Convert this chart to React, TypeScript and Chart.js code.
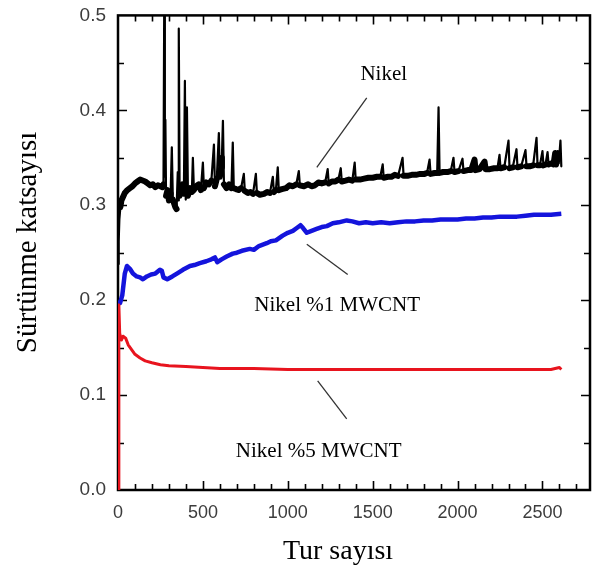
import { useEffect, useRef } from 'react';
import { Chart, registerables } from 'chart.js';

Chart.register(...registerables);

// ---- Data (x = Tur sayısı, y = Sürtünme katsayısı) ----
const nikel: [number, number][] = [
  [0, 0.238], [4, 0.262], [8, 0.285], [14, 0.298], [20, 0.305], [30, 0.309], [40, 0.313], [55, 0.316],
  [70, 0.318], [85, 0.32], [100, 0.323], [115, 0.325], [130, 0.327], [145, 0.326], [160, 0.325], [175, 0.323],
  [190, 0.321], [205, 0.322], [220, 0.319], [235, 0.321], [250, 0.32], [262, 0.319], [268, 0.322], [272, 0.5],
  [276, 0.33], [279, 0.39], [283, 0.31], [292, 0.316], [300, 0.305], [310, 0.312], [317, 0.361], [323, 0.306],
  [330, 0.302], [338, 0.298], [345, 0.296], [352, 0.335], [355, 0.305], [358, 0.486], [363, 0.31], [372, 0.316],
  [380, 0.322], [388, 0.312], [394, 0.431], [399, 0.306], [406, 0.403], [412, 0.31], [425, 0.318], [435, 0.314],
  [441, 0.35], [447, 0.316], [460, 0.32], [475, 0.322], [488, 0.316], [500, 0.345], [506, 0.318], [520, 0.324],
  [535, 0.322], [550, 0.326], [565, 0.364], [571, 0.32], [582, 0.328], [594, 0.376], [600, 0.33], [608, 0.34],
  [612, 0.35], [618, 0.389], [624, 0.322], [640, 0.318], [655, 0.322], [668, 0.318], [676, 0.366], [682, 0.318],
  [695, 0.317], [710, 0.316], [725, 0.318], [741, 0.333], [747, 0.315], [765, 0.313], [780, 0.314], [795, 0.312],
  [812, 0.333], [818, 0.313], [835, 0.311], [860, 0.312], [880, 0.314], [895, 0.313], [912, 0.33], [918, 0.314],
  [930, 0.316], [941, 0.34], [947, 0.316], [965, 0.317], [990, 0.318], [1010, 0.321], [1030, 0.32], [1050, 0.322],
  [1065, 0.336], [1071, 0.321], [1095, 0.32], [1120, 0.322], [1140, 0.32], [1160, 0.321], [1180, 0.324], [1200, 0.323],
  [1220, 0.324], [1235, 0.338], [1241, 0.323], [1260, 0.325], [1280, 0.325], [1298, 0.327], [1312, 0.339], [1318, 0.325],
  [1340, 0.326], [1360, 0.327], [1380, 0.326], [1394, 0.345], [1400, 0.327], [1425, 0.327], [1450, 0.328], [1475, 0.329],
  [1500, 0.329], [1525, 0.33], [1545, 0.33], [1559, 0.343], [1565, 0.329], [1590, 0.33], [1610, 0.33], [1630, 0.332],
  [1650, 0.331], [1676, 0.35], [1682, 0.331], [1705, 0.331], [1730, 0.332], [1755, 0.332], [1780, 0.333], [1805, 0.333],
  [1820, 0.334], [1835, 0.348], [1841, 0.333], [1865, 0.334], [1880, 0.334], [1888, 0.403], [1894, 0.334], [1915, 0.335],
  [1940, 0.335], [1960, 0.336], [1976, 0.35], [1982, 0.335], [2005, 0.336], [2029, 0.349], [2035, 0.336], [2060, 0.337],
  [2080, 0.337], [2100, 0.348], [2106, 0.337], [2130, 0.338], [2159, 0.346], [2165, 0.338], [2190, 0.338], [2215, 0.339],
  [2235, 0.339], [2247, 0.353], [2253, 0.339], [2275, 0.34], [2300, 0.368], [2306, 0.339], [2325, 0.34], [2347, 0.359],
  [2353, 0.34], [2375, 0.341], [2400, 0.358], [2406, 0.341], [2425, 0.341], [2445, 0.342], [2465, 0.371], [2471, 0.342],
  [2485, 0.342], [2500, 0.357], [2506, 0.342], [2518, 0.343], [2530, 0.356], [2536, 0.343], [2550, 0.344], [2565, 0.343],
  [2575, 0.355], [2580, 0.343], [2590, 0.357], [2596, 0.344], [2606, 0.368], [2611, 0.341],
];

const nikelMwcnt1: [number, number][] = [
  [3, 0.2], [12, 0.197], [25, 0.205], [40, 0.228], [53, 0.236], [70, 0.233], [88, 0.228], [110, 0.225],
  [130, 0.224], [147, 0.222], [170, 0.225], [195, 0.227], [220, 0.228], [247, 0.232], [258, 0.231], [268, 0.224],
  [290, 0.222], [320, 0.225], [347, 0.228], [382, 0.232], [424, 0.236], [450, 0.237], [482, 0.239], [520, 0.241],
  [550, 0.243], [571, 0.245], [585, 0.24], [610, 0.243], [640, 0.246], [676, 0.249], [700, 0.25], [730, 0.252],
  [776, 0.254], [800, 0.253], [830, 0.257], [876, 0.26], [900, 0.262], [930, 0.263], [970, 0.268], [1000, 0.271],
  [1030, 0.273], [1053, 0.276], [1075, 0.279], [1090, 0.276], [1112, 0.271], [1140, 0.273], [1170, 0.275], [1200, 0.277],
  [1230, 0.278], [1265, 0.281], [1300, 0.282], [1347, 0.284], [1380, 0.283], [1420, 0.281], [1460, 0.282], [1500, 0.281],
  [1550, 0.282], [1600, 0.281], [1650, 0.282], [1700, 0.283], [1750, 0.283], [1800, 0.284], [1850, 0.284], [1900, 0.285],
  [1950, 0.285], [2000, 0.285], [2050, 0.286], [2100, 0.286], [2150, 0.287], [2200, 0.287], [2250, 0.288], [2300, 0.288],
  [2350, 0.288], [2400, 0.289], [2450, 0.29], [2500, 0.29], [2550, 0.29], [2611, 0.291],
];

const nikelMwcnt5: [number, number][] = [
  [2, 0.0], [5, 0.195], [10, 0.165], [20, 0.158], [30, 0.162], [45, 0.16], [60, 0.153], [80, 0.148],
  [100, 0.143], [130, 0.139], [160, 0.136], [200, 0.134], [250, 0.132], [300, 0.131], [400, 0.13], [500, 0.129],
  [600, 0.128], [800, 0.128], [1000, 0.127], [1200, 0.127], [1400, 0.127], [1600, 0.127], [1800, 0.127], [2000, 0.127],
  [2200, 0.127], [2400, 0.127], [2550, 0.127], [2600, 0.129], [2611, 0.127],
];

const xTickValues = [0, 500, 1000, 1500, 2000, 2500];
const yTickValues = [0.0, 0.1, 0.2, 0.3, 0.4, 0.5];

const X_TITLE = 'Tur sayısı';
const Y_TITLE = 'Sürtünme katsayısı';

const X_MAX = 2780;
const Y_MAX = 0.5;
const X_MINOR = 100;
const X_MAJOR = 500;
const Y_MINOR = 0.05;

const labels = [
  { text: 'Nikel', x: 1565, y: 0.432, lx1: 1171, ly1: 0.34, lx2: 1465, ly2: 0.413 },
  { text: 'Nikel %1 MWCNT', x: 1291, y: 0.189, lx1: 1112, ly1: 0.259, lx2: 1353, ly2: 0.227 },
  { text: 'Nikel %5 MWCNT', x: 1182, y: 0.0345, lx1: 1176, ly1: 0.115, lx2: 1347, ly2: 0.075 },
];

const SERIF = "'Times New Roman', 'Liberation Serif', serif";
const SANS = "Arial, 'Liberation Sans', sans-serif";

const framePlugin = {
  id: 'framePlugin',
  beforeDatasetsDraw(chart: any) {
    const { ctx, chartArea: a, scales } = chart;
    const x = scales.x;
    const y = scales.y;
    ctx.save();
    ctx.strokeStyle = '#000';
    ctx.lineWidth = 2.5;
    ctx.strokeRect(a.left, a.top, a.right - a.left, a.bottom - a.top);
    ctx.lineWidth = 1.6;
    ctx.beginPath();
    for (let i = 1; i * X_MINOR < X_MAX; i++) {
      const v = i * X_MINOR;
      const px = Math.round(x.getPixelForValue(v)) + 0.5;
      const len = v % X_MAJOR === 0 ? 9 : 6;
      ctx.moveTo(px, a.bottom);
      ctx.lineTo(px, a.bottom - len);
      ctx.moveTo(px, a.top);
      ctx.lineTo(px, a.top + len);
    }
    for (let i = 1; i * Y_MINOR < Y_MAX - 1e-9; i++) {
      const v = i * Y_MINOR;
      const py = Math.round(y.getPixelForValue(v)) + 0.5;
      const len = i % 2 === 0 ? 9 : 6;
      ctx.moveTo(a.left, py);
      ctx.lineTo(a.left + len, py);
      ctx.moveTo(a.right, py);
      ctx.lineTo(a.right - len, py);
    }
    ctx.stroke();

    // axis titles
    ctx.fillStyle = '#000';
    ctx.textAlign = 'center';
    ctx.textBaseline = 'alphabetic';
    ctx.font = `28px ${SERIF}`;
    ctx.fillText(X_TITLE, a.left + 220, a.bottom + 69);
    ctx.save();
    ctx.translate(a.left - 82, a.top + 227);
    ctx.rotate(-Math.PI / 2);
    ctx.font = `29px ${SERIF}`;
    ctx.fillText(Y_TITLE, 0, 0);
    ctx.restore();
    ctx.restore();
  },
  afterDatasetsDraw(chart: any) {
    const { ctx, scales } = chart;
    const x = scales.x;
    const y = scales.y;
    ctx.save();
    ctx.strokeStyle = '#333';
    ctx.lineWidth = 1.3;
    ctx.fillStyle = '#000';
    ctx.font = `21px ${SERIF}`;
    ctx.textAlign = 'center';
    ctx.textBaseline = 'alphabetic';
    for (const l of labels) {
      ctx.beginPath();
      ctx.moveTo(x.getPixelForValue(l.lx1), y.getPixelForValue(l.ly1));
      ctx.lineTo(x.getPixelForValue(l.lx2), y.getPixelForValue(l.ly2));
      ctx.stroke();
      ctx.fillText(l.text, x.getPixelForValue(l.x), y.getPixelForValue(l.y));
    }
    ctx.restore();
  },
};

const toPoints = (arr: [number, number][]) => arr.map(([x, y]) => ({ x, y }));

export default function App() {
  const canvasRef = useRef<HTMLCanvasElement | null>(null);

  useEffect(() => {
    const canvas = canvasRef.current;
    if (!canvas) return;
    const chart = new Chart(canvas, {
      type: 'line',
      data: {
        datasets: [
          {
            label: 'Nikel %5 MWCNT',
            data: toPoints(nikelMwcnt5),
            borderColor: '#e8141e',
            borderWidth: 3,
            pointRadius: 0,
            tension: 0,
            borderJoinStyle: 'round',
          },
          {
            label: 'Nikel %1 MWCNT',
            data: toPoints(nikelMwcnt1),
            borderColor: '#1414dc',
            borderWidth: 4.5,
            pointRadius: 0,
            tension: 0,
            borderJoinStyle: 'round',
          },
          {
            label: 'Nikel',
            data: toPoints(nikel),
            borderColor: '#000',
            borderWidth: 6,
            pointRadius: 0,
            tension: 0,
            borderJoinStyle: 'round',
            borderCapStyle: 'round',
            segment: {
              borderWidth: (c: any) =>
                Math.abs(c.p0.parsed.y - c.p1.parsed.y) > 0.012 ? 2.2 : 6,
            },
          } as any,
        ],
      },
      options: {
        responsive: false,
        animation: false,
        events: [],
        layout: { padding: { top: 12, right: 2, left: 0, bottom: 0 } },
        plugins: {
          legend: { display: false },
          tooltip: { enabled: false },
        },
        scales: {
          x: {
            type: 'linear',
            min: 0,
            max: X_MAX,
            grid: { display: false },
            border: { display: false },
            afterBuildTicks: (scale: any) => {
              scale.ticks = xTickValues.map((v) => ({ value: v }));
            },
            ticks: {
              autoSkip: false,
              maxRotation: 0,
              padding: 4,
              color: '#3c3c3c',
              font: { family: SANS, size: 18 },
              callback: (v: any) => String(v),
            },
            afterFit: (scale: any) => {
              scale.height = 82;
            },
          },
          y: {
            type: 'linear',
            min: 0,
            max: Y_MAX,
            grid: { display: false },
            border: { display: false },
            afterBuildTicks: (scale: any) => {
              scale.ticks = yTickValues.map((v) => ({ value: v }));
            },
            ticks: {
              autoSkip: false,
              padding: 4,
              color: '#3c3c3c',
              font: { family: SANS, size: 19 },
              callback: (v: any) => Number(v).toFixed(1),
            },
            afterFit: (scale: any) => {
              scale.width = 118;
            },
          },
        },
      },
      plugins: [framePlugin],
    });
    return () => chart.destroy();
  }, []);

  return (
    <canvas
      ref={canvasRef}
      width={592}
      height={572}
      style={{ position: 'absolute', left: 0, top: 0, display: 'block' }}
    />
  );
}
